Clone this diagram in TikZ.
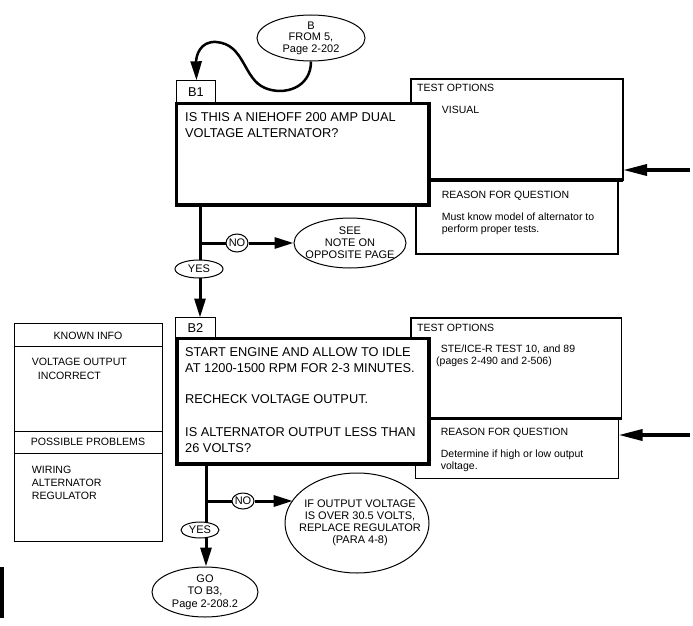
\documentclass[tikz,border=0pt]{standalone}
\usepackage{fontspec}
\setmainfont{Liberation Sans}
\usetikzlibrary{positioning,arrows.meta,shapes.geometric}

\tikzset{
  qbox/.style={draw, line width=3.2pt, fill=white, inner sep=0pt, outer sep=0pt, anchor=north west},
  tagbox/.style={draw, line width=1.2pt, fill=white, inner sep=0pt, outer sep=0pt, anchor=north west},
  optbox/.style={draw, line width=1.8pt, fill=white, inner sep=0pt, outer sep=0pt, anchor=north west},
  infobox/.style={draw, line width=1pt, inner sep=0pt, outer sep=0pt, anchor=north west},
  bigtxt/.style={anchor=north west, inner sep=0pt, align=left, font=\fontsize{12.8}{16}\selectfont},
  smalltxt/.style={anchor=north west, inner sep=0pt, align=left, font=\fontsize{10.5}{12}\selectfont},
  oval/.style={draw, ellipse, line width=1pt, fill=white, inner sep=0pt},
  ovaltxt/.style={inner sep=0pt, align=center, font=\fontsize{11}{12.2}\selectfont},
  flow/.style={line width=3pt, -{Triangle[length=19pt,width=11pt]}},
  pointer/.style={line width=3.5pt, -{Triangle[length=24pt,width=11pt]}}
}

\begin{document}
\begin{tikzpicture}[x=1pt,y=-1pt]
  \useasboundingbox (0,0) rectangle (693,626);

  % step B1
  \node[oval, minimum width=108pt, minimum height=46pt] (fromB) at (311,38) {};
  \node[ovaltxt, font=\fontsize{11}{11.5}\selectfont] at (fromB) {B\\FROM 5,\\Page 2-202};
  \node[optbox, minimum width=212pt, minimum height=101pt] (b1opt) at (411,79) {};
  \node[optbox, minimum width=202pt, minimum height=74pt] (b1why) at (416,180) {};
  \draw[line width=3.5pt] (b1opt.south west) -- (b1opt.south east);
  \node[tagbox, minimum width=39.4pt, minimum height=22.7pt] (b1tag) at (176.3,80.3) {};
  \node[font=\fontsize{12.8}{13}\selectfont] at (b1tag.center) {B1};
  \node[qbox, minimum width=252.3pt, minimum height=101.7pt] (b1box) at (176.7,103.3) {};
  \node[bigtxt] (b1q) at (185,112.5) {IS THIS A NIEHOFF 200 AMP DUAL\\VOLTAGE ALTERNATOR?};
  \node[smalltxt] (b1optT) at (417,83.5) {TEST OPTIONS};
  \node[smalltxt] (b1optV) at (441.7,105.5) {VISUAL};
  \node[smalltxt] (b1whyT) at (441.7,190.5) {REASON FOR QUESTION};
  \node[smalltxt] (b1whyV) at (441.7,212.5) {Must know model of alternator to\\perform proper tests.};
  \draw[line width=2.5pt, -{Triangle[length=19pt,width=11pt]}] (fromB.south)
    .. controls (311,88) and (284,96) .. (265,88)
    .. controls (243,79) and (245,44) .. (216,42)
    .. controls (200,41) and (196,56) .. (b1tag.north -| 196.5,0);
  \coordinate (b1in) at (690,170);
  \draw[pointer] (b1in) -- (b1opt.east |- b1in);

  % B1 answers
  \coordinate (b1no) at (200,243);
  \node[oval, minimum width=22pt, minimum height=18pt] (no1) at (237,243) {};
  \node[ovaltxt] at (no1) {NO};
  \node[oval, minimum width=112pt, minimum height=50pt] (note) at (350,243) {};
  \node[ovaltxt] at (note) {SEE\\NOTE ON\\OPPOSITE PAGE};
  \draw[line width=3pt] (b1box.south -| b1no) -- (b1no) -- (no1.west);
  \draw[flow] (no1.east) -- (note.west);
  \draw[flow] (b1no) -- (200,317.5);
  \node[oval, minimum width=48pt, minimum height=18pt] (yes1) at (199,269) {};
  \node[ovaltxt] at (yes1) {YES};

  % step B2
  \node[infobox, minimum width=148pt, minimum height=218pt] (known) at (14,323) {};
  \draw[line width=1pt] (14,346) -- (162,346);
  \draw[line width=1pt] (14,431) -- (162,431);
  \draw[line width=1pt] (14,453) -- (162,453);
  \node[font=\fontsize{10.6}{12}\selectfont] (knownT) at (88,336) {KNOWN INFO};
  \node[smalltxt, font=\fontsize{10.6}{14}\selectfont] (knownV) at (31.7,357.5) {VOLTAGE OUTPUT\\\hspace*{6pt}INCORRECT};
  \node[font=\fontsize{10.6}{12}\selectfont] (probT) at (88,442) {POSSIBLE PROBLEMS};
  \node[smalltxt, font=\fontsize{10.6}{13.3}\selectfont] (probV) at (31.7,465.5) {WIRING\\ALTERNATOR\\REGULATOR};

  \node[optbox, minimum width=210.5pt, minimum height=100.5pt] (b2opt) at (411,318) {};
  \node[optbox, minimum width=203pt, minimum height=60pt] (b2why) at (415.5,418.5) {};
  \draw[line width=3.5pt] (b2opt.south west) -- (b2opt.south east);
  \node[tagbox, minimum width=40pt, minimum height=21pt] (b2tag) at (175.5,317.5) {};
  \node[font=\fontsize{12.8}{13}\selectfont] at (b2tag.center) {B2};
  \node[qbox, minimum width=252pt, minimum height=125.5pt] (b2box) at (177,338.5) {};
  \node[bigtxt] (b2q) at (185,347.5) {START ENGINE AND ALLOW TO IDLE\\AT 1200-1500 RPM FOR 2-3 MINUTES.\\[15pt]RECHECK VOLTAGE OUTPUT.\\[17pt]IS ALTERNATOR OUTPUT LESS THAN\\26 VOLTS?};
  \node[smalltxt] (b2optT) at (417,323.5) {TEST OPTIONS};
  \node[smalltxt] (b2optV) at (440.7,344.5) {STE/ICE-R TEST 10, and 89\\\hspace*{-4.7pt}(pages 2-490 and 2-506)};
  \node[smalltxt] (b2whyT) at (440.7,427.5) {REASON FOR QUESTION};
  \node[smalltxt] (b2whyV) at (440.7,449.5) {Determine if high or low output\\voltage.};
  \coordinate (b2in) at (690,435);
  \draw[pointer] (b2in) -- (b2why.east |- b2in);

  % B2 answers
  \coordinate (b2no) at (206,501);
  \node[oval, minimum width=22pt, minimum height=16pt] (no2) at (243,501) {};
  \node[ovaltxt] at (no2) {NO};
  \node[oval, minimum width=144pt, minimum height=100pt] (replace) at (357,523) {};
  \node[ovaltxt, font=\fontsize{11}{12}\selectfont] at ([xshift=3pt]replace) {IF OUTPUT VOLTAGE\\IS OVER 30.5 VOLTS,\\REPLACE REGULATOR\\(PARA 4-8)};
  \node[oval, minimum width=106pt, minimum height=50pt] (goB3) at (205,592) {};
  \node[ovaltxt, font=\fontsize{11}{12.5}\selectfont] at (goB3) {GO\\TO B3,\\Page 2-208.2};
  \draw[line width=3pt] (b2box.south -| b2no) -- (b2no) -- (no2.west);
  \draw[flow] (no2.east) -- (replace.160 |- no2);
  \draw[flow] (b2no) -- (b2no |- goB3.north);
  \node[oval, minimum width=38pt, minimum height=16pt] (yes2) at (200,530) {};
  \node[ovaltxt] at (yes2) {YES};

  % page edge mark
  \fill (0,567) rectangle (4,618);
\end{tikzpicture}
\end{document}
